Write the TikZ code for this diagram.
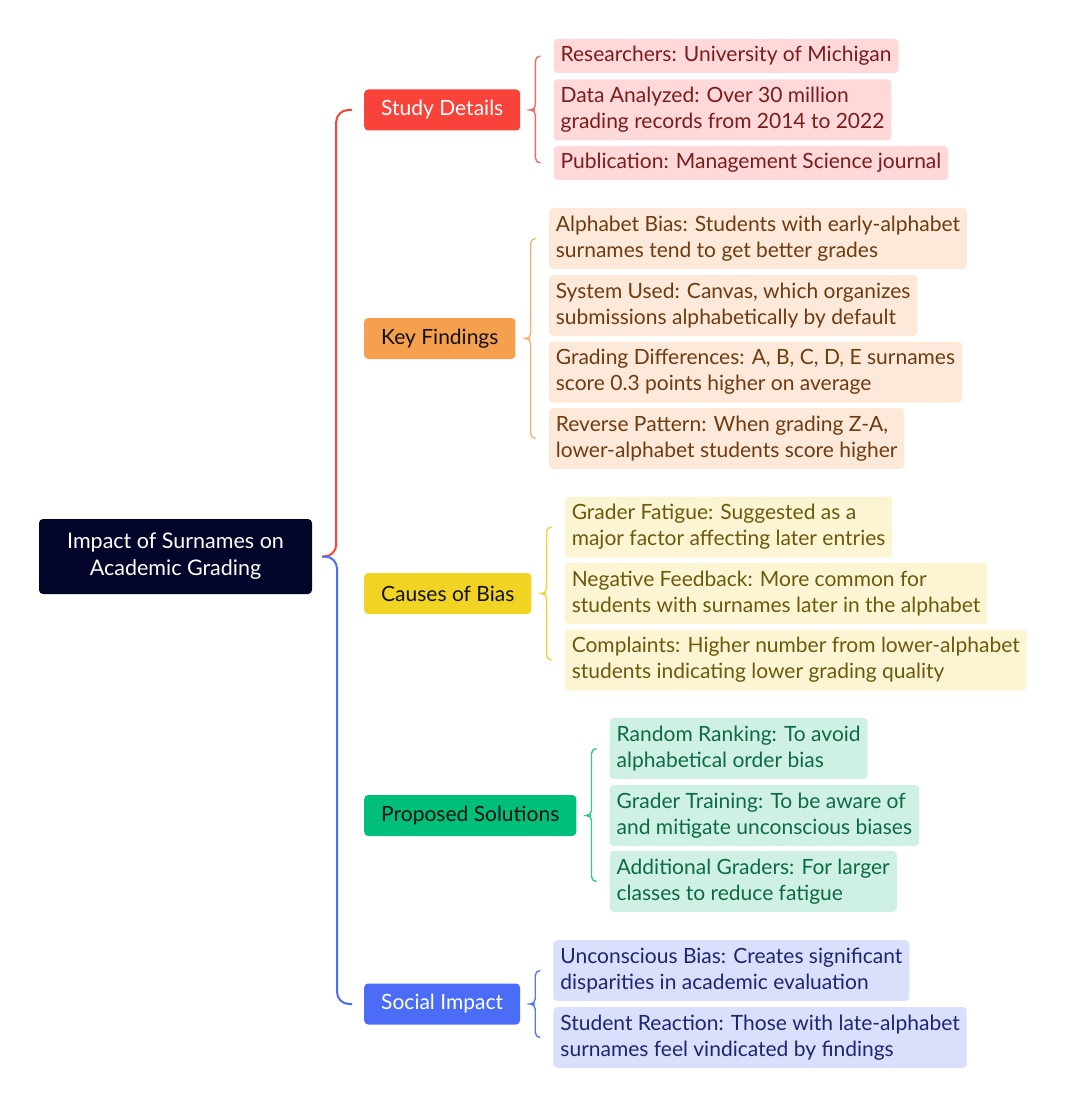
\documentclass[tikz,border=0pt]{standalone}
\usepackage{fontspec}
\setmainfont{Lato}
\usetikzlibrary{calc,positioning}

% branch colours: main box, ink on it, leaf fill, leaf ink, bracket line
\definecolor{rootmain}{HTML}{02042A}
\definecolor{sdmain}{HTML}{F7433A}
\definecolor{sdink}{HTML}{FFFFFF}
\definecolor{sdfill}{HTML}{FFD9D9}
\definecolor{sdtext}{HTML}{7A1C1C}
\definecolor{sdline}{HTML}{F06A6A}
\definecolor{kfmain}{HTML}{F5A04E}
\definecolor{kfink}{HTML}{111111}
\definecolor{kffill}{HTML}{FDE9DA}
\definecolor{kftext}{HTML}{6E3B12}
\definecolor{kfline}{HTML}{F8B274}
\definecolor{cbmain}{HTML}{F0D323}
\definecolor{cbink}{HTML}{111111}
\definecolor{cbfill}{HTML}{FCF5D3}
\definecolor{cbtext}{HTML}{6A5A0C}
\definecolor{cbline}{HTML}{F2D43C}
\definecolor{psmain}{HTML}{00BF7A}
\definecolor{psink}{HTML}{111111}
\definecolor{psfill}{HTML}{CEF1E3}
\definecolor{pstext}{HTML}{0D6A45}
\definecolor{psline}{HTML}{2ECB8C}
\definecolor{simain}{HTML}{4A6CF7}
\definecolor{siink}{HTML}{FFFFFF}
\definecolor{sifill}{HTML}{DADFFB}
\definecolor{sitext}{HTML}{1C2672}
\definecolor{siline}{HTML}{5878F2}

\tikzset{
  root/.style={fill=rootmain, text=white, rounded corners=4pt, align=center,
    minimum width=273pt, minimum height=75pt, font=\fontsize{21.5}{27}\selectfont},
  topic/.style={anchor=west, fill=#1main, text=#1ink, rounded corners=4pt,
    inner xsep=17pt, inner ysep=0pt, minimum height=41pt,
    font=\fontsize{21}{24}\selectfont},
  leaf/.style={anchor=west, fill=#1fill, text=#1text, rounded corners=4pt,
    align=left, inner xsep=7pt, inner ysep=0pt, minimum height=34pt,
    font=\fontsize{21}{26}\selectfont},
  tall/.style={minimum height=61pt},
  brace/.style={draw=#1line, line width=1.4pt, rounded corners=5pt},
  trunk/.style={draw=#1main, line width=2pt, rounded corners=12pt}
}

\begin{document}
\begin{tikzpicture}[x=1pt,y=-1pt]
  \useasboundingbox (0,0) rectangle (1080,1107);

  % centre and main branches
  \node[root] (root) at (175.5,556.5) {Impact of Surnames on\\Academic Grading};
  \node[topic=sd] (sd) at (364,110) {Study Details};
  \node[topic=kf] (kf) at (364,338.5) {Key Findings};
  \node[topic=cb] (cb) at (364,593.5) {Causes of Bias};
  \node[topic=ps] (ps) at (364,815.5) {Proposed Solutions};
  \node[topic=si] (si) at (364,1004) {Social Impact};

  % study details
  \node[leaf=sd] (sd1) at ($(sd.east)+(33,-54)$) {Researchers: University of Michigan};
  \node[leaf=sd,tall] (sd2) at ($(sd.east)+(33,0)$) {Data Analyzed: Over 30 million\\grading records from 2014 to 2022};
  \node[leaf=sd] (sd3) at ($(sd.east)+(33,53)$) {Publication: Management Science journal};

  % key findings
  \node[leaf=kf,tall] (kf1) at ($(kf.east)+(33,-100)$) {Alphabet Bias: Students with early-alphabet\\surnames tend to get better grades};
  \node[leaf=kf,tall] (kf2) at ($(kf.east)+(33,-33)$) {System Used: Canvas, which organizes\\submissions alphabetically by default};
  \node[leaf=kf,tall] (kf3) at ($(kf.east)+(33,33.5)$) {Grading Differences: A, B, C, D, E surnames\\score 0.3 points higher on average};
  \node[leaf=kf,tall] (kf4) at ($(kf.east)+(33,100)$) {Reverse Pattern: When grading Z-A,\\lower-alphabet students score higher};

  % causes of bias
  \node[leaf=cb,tall] (cb1) at ($(cb.east)+(33,-66.5)$) {Grader Fatigue: Suggested as a\\major factor affecting later entries};
  \node[leaf=cb,tall] (cb2) at ($(cb.east)+(33,0)$) {Negative Feedback: More common for\\students with surnames later in the alphabet};
  \node[leaf=cb,tall] (cb3) at ($(cb.east)+(33,66.5)$) {Complaints: Higher number from lower-alphabet\\students indicating lower grading quality};

  % proposed solutions
  \node[leaf=ps,tall] (ps1) at ($(ps.east)+(33,-67)$) {Random Ranking: To avoid\\alphabetical order bias};
  \node[leaf=ps,tall] (ps2) at ($(ps.east)+(33,0)$) {Grader Training: To be aware of\\and mitigate unconscious biases};
  \node[leaf=ps,tall] (ps3) at ($(ps.east)+(33,66)$) {Additional Graders: For larger\\classes to reduce fatigue};

  % social impact
  \node[leaf=si,tall] (si1) at ($(si.east)+(33,-33.5)$) {Unconscious Bias: Creates significant\\disparities in academic evaluation};
  \node[leaf=si,tall] (si2) at ($(si.east)+(33,33.5)$) {Student Reaction: Those with late-alphabet\\surnames feel vindicated by findings};

  % trunk bracket
  \draw[trunk=sd] ($(sd.west)+(-12,0)$) -| ($(root.east)+(24,0)$) -- ($(root.east)+(10,0)$);
  \draw[trunk=si] ($(root.east)+(10,0)$) -| ($(si.west)+(-27,0)$) -- ($(si.west)+(-12,0)$);

  % branch brackets
  \draw[brace=sd] ($(sd1.west)+(-13,0)$) -| ($(sd.east)+(15,0)$) -- ($(sd.east)+(10,0)$) -| ($(sd3.west)+(-18,0)$) -- ($(sd3.west)+(-13,0)$);
  \draw[brace=kf] ($(kf1.west)+(-13,0)$) -| ($(kf.east)+(15,0)$) -- ($(kf.east)+(10,0)$) -| ($(kf4.west)+(-18,0)$) -- ($(kf4.west)+(-13,0)$);
  \draw[brace=cb] ($(cb1.west)+(-13,0)$) -| ($(cb.east)+(15,0)$) -- ($(cb.east)+(10,0)$) -| ($(cb3.west)+(-18,0)$) -- ($(cb3.west)+(-13,0)$);
  \draw[brace=ps] ($(ps1.west)+(-13,0)$) -| ($(ps.east)+(15,0)$) -- ($(ps.east)+(10,0)$) -| ($(ps3.west)+(-18,0)$) -- ($(ps3.west)+(-13,0)$);
  \draw[brace=si] ($(si1.west)+(-13,0)$) -| ($(si.east)+(15,0)$) -- ($(si.east)+(10,0)$) -| ($(si2.west)+(-18,0)$) -- ($(si2.west)+(-13,0)$);
\end{tikzpicture}
\end{document}
